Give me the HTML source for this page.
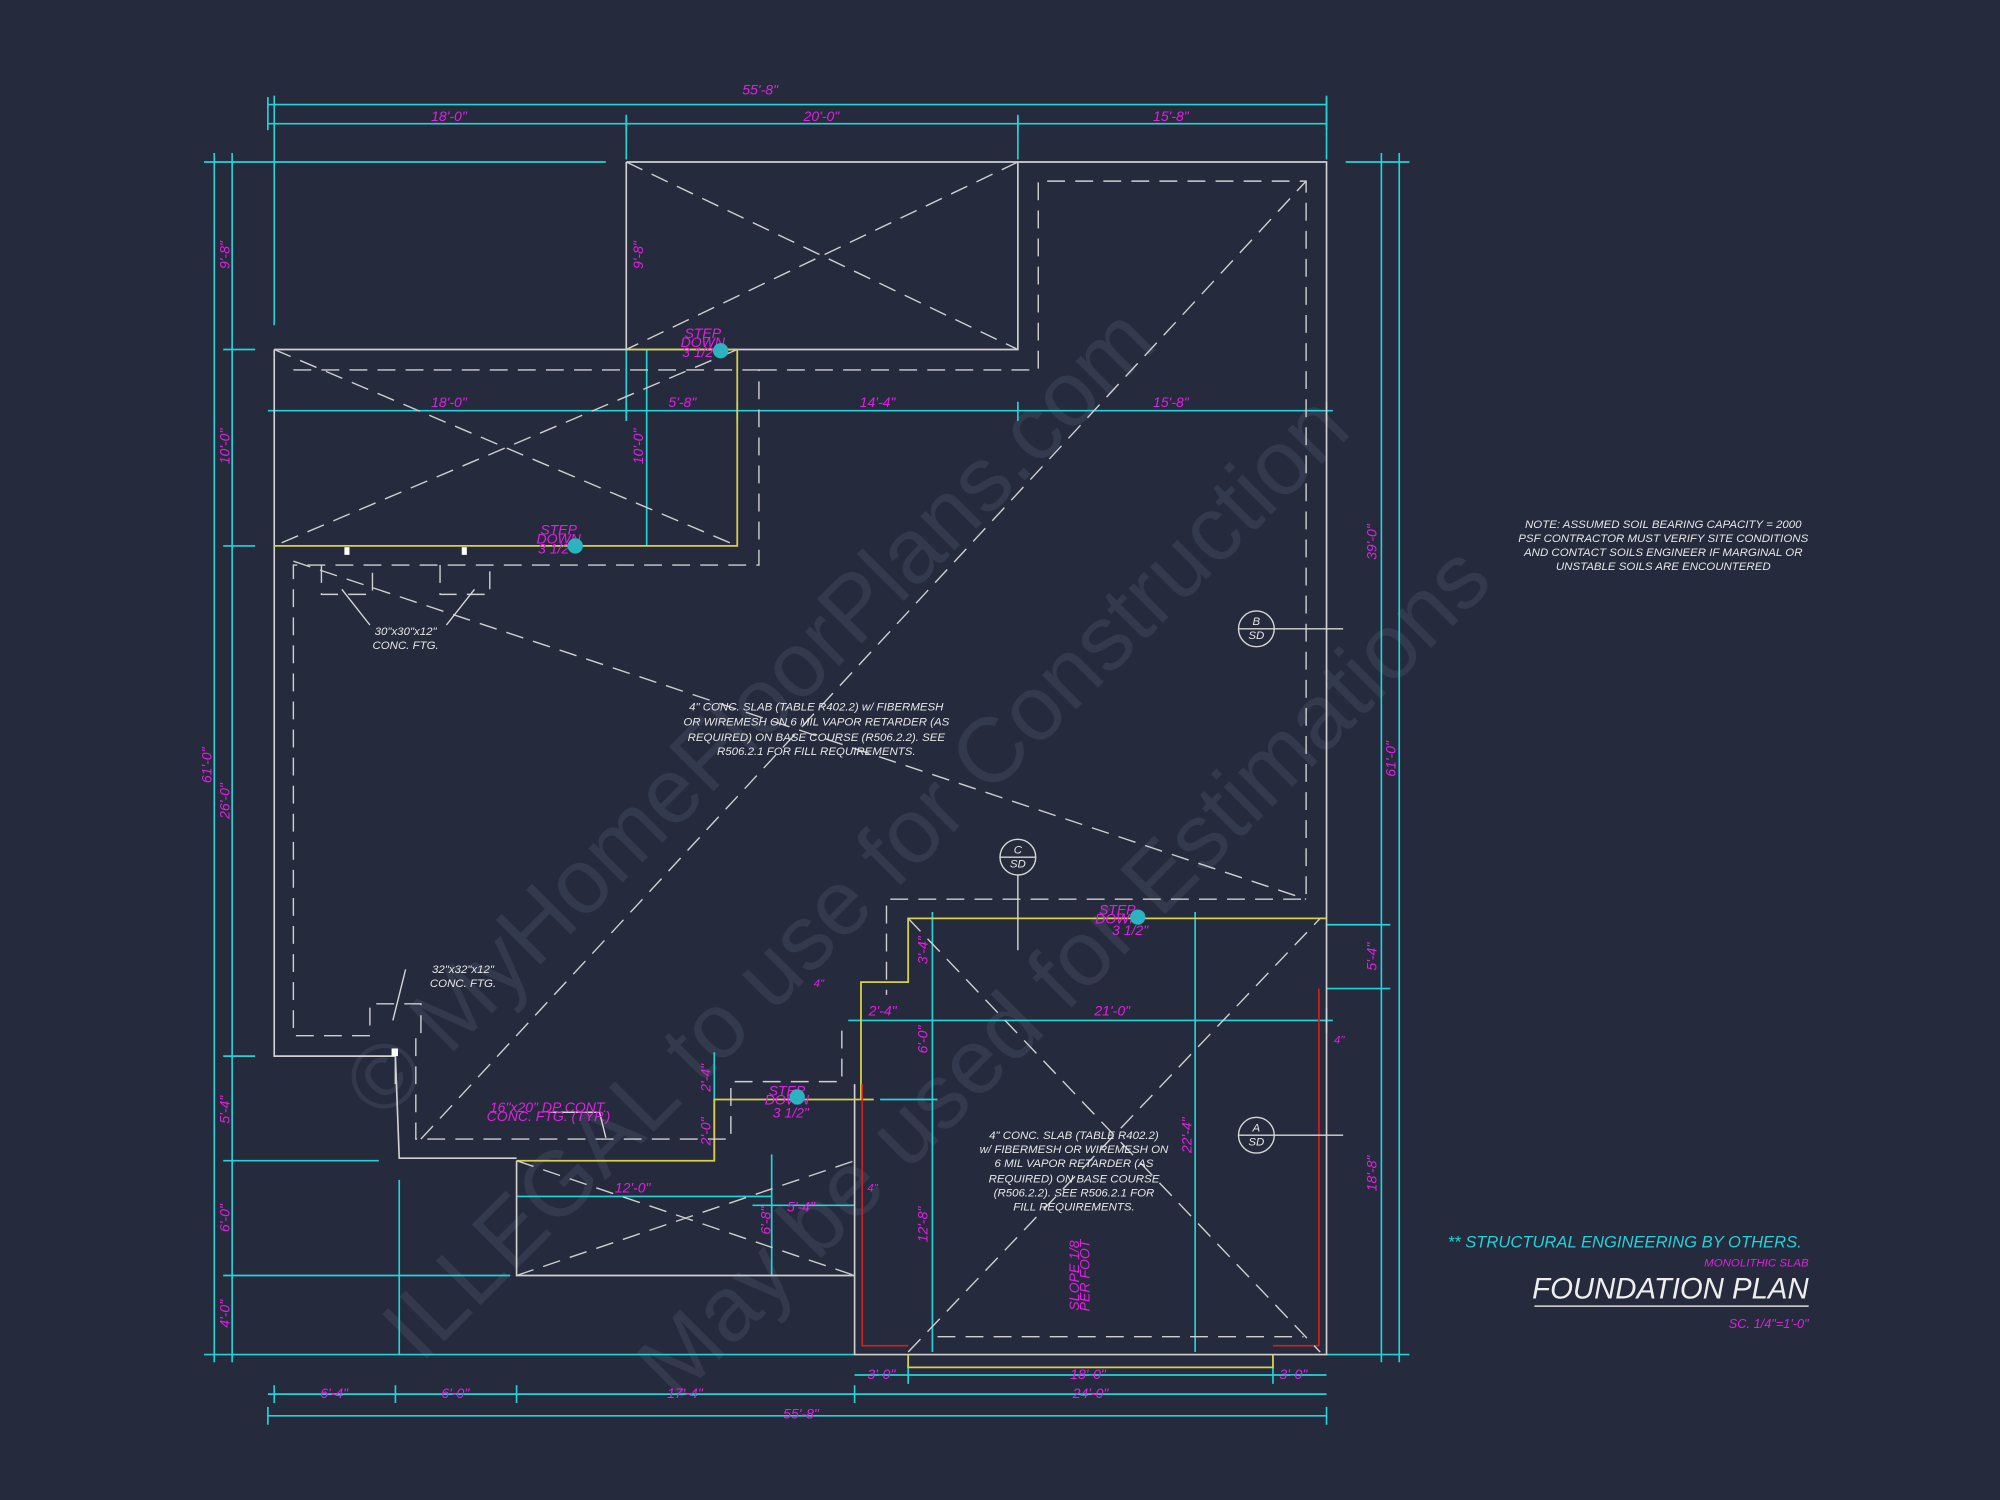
<!DOCTYPE html>
<html><head><meta charset="utf-8"><style>
html,body{margin:0;padding:0;background:#262a3d;}
svg{display:block}
text{font-family:"Liberation Sans",sans-serif;font-style:italic}
.m{fill:#e020e0;font-size:11px}
.w{fill:#e6e6e6;font-size:9px;font-style:normal}
.c{stroke:#22d3d8;stroke-width:1.3;fill:none}
.o{stroke:#d0d0d0;stroke-width:1.3;fill:none}
.d{stroke:#cfcfcf;stroke-width:1.1;fill:none;stroke-dasharray:14 8}
.y{stroke:#d8d04a;stroke-width:1.4;fill:none}
.r{stroke:#d02020;stroke-width:1.3;fill:none}
</style></head><body>
<svg width="2000" height="1500" viewBox="0 0 1568 1176" xmlns="http://www.w3.org/2000/svg">
<rect width="1568" height="1176" fill="#262a3d"/>
<g fill="#343a4d" font-family="Liberation Serif,serif" font-size="72">
<text transform="translate(300,880) rotate(-45)" style="font-style:normal">© MyHomeFloorPlans.com</text>
<text transform="translate(330,1070) rotate(-45)" style="font-style:normal">ILLEGAL to use for Construction</text>
<text transform="translate(530,1100) rotate(-45)" style="font-style:normal">May be used for Estimations</text>
</g>
<g class="c">
<path d="M210 82H1040M210 97H1040M215 75V255M491 90V125M798 90V125M1040 75V125"/>
<path d="M210 76V102M1040 76V102M491 92V104M798 92V104"/>
<path d="M168 120V1068M182 120V1068M160 127H475M175 274H200M175 428H200M175 828H200M175 910H297M175 1000H400M160 1062H670"/>
<path d="M1083 120V1068M1097 120V1068M1055 127H1105M1040 725H1090M1040 775H1090M1040 1062H1105"/>
<path d="M210 322H1045M491 315V330M578 315V330M798 315V330M1040 315V330"/>
<path d="M507 274V428M491 274V330"/>
<path d="M665 800H1045M731 715V1060M937 715V1060M690 862H735M1040 790V810"/>
<path d="M670 1078H1040M712 1070V1085M998 1070V1085M210 1093H1040M215 1086V1100M310 1086V1100M405 1086V1100M670 1086V1100M210 1110H1040M210 1103V1117M1040 1103V1117"/>
<path d="M560 825V910M405 938H605M605 905V1000M590 945H670M313 925V1062"/>
</g>
<g class="o">
<path d="M491 127H1040V720M491 127V274H798V127M215 274H491M215 274V828H310V850M310 828L313 908H405M405 910V1000H670V1062H1040V720M670 862V1062M670 862V850"/>
</g>
<g class="y">
<path d="M491 274H578V428H215M405 910H560V862H685M675 862V770H712V720H1040M712 1062V1072H998V1062"/>
</g>
<g class="r"><path d="M676 850V1055H712M1034 775V1055H998"/></g>
<g class="d">
<path d="M230 290H595V443H230V812H290V787H330V812H326V893H573V848H660V800"/>
<path d="M595 290H814V142H1024V705H695V780"/>
<path d="M735 1048H1022"/>
<path d="M252 443V466H292V443M345 443V466H384V443"/>
<path d="M491 127L798 274M798 127L491 274M215 274L578 428M578 274L215 428"/>
<path d="M230 440L1024 705M330 893L1024 142M712 1060L1035 720M712 720L1035 1060M405 910L670 1000M405 1000L670 910"/>
</g>
<rect x="270" y="429" width="4" height="6" fill="#fff"/><rect x="362" y="429" width="4" height="6" fill="#fff"/><rect x="307" y="822" width="5" height="6" fill="#fff"/>
<g fill="none" stroke="#d6d6d6" stroke-width="1.1">
<circle cx="985" cy="493" r="14"/><path d="M971 493H1053"/>
<circle cx="798" cy="672" r="14"/><path d="M784 672H812M798 686V745"/>
<circle cx="985" cy="890" r="14"/><path d="M971 890H1053"/>
<path d="M290 490L268 462M350 490L372 462M318 760L308 800M430 872L470 872L475 892"/>
</g>
<g class="w" text-anchor="middle" font-size="8">
<text x="985" y="490">B</text><text x="985" y="501">SD</text>
<text x="798" y="669">C</text><text x="798" y="680">SD</text>
<text x="985" y="887">A</text><text x="985" y="898">SD</text>
</g>
<g class="m" text-anchor="middle">
<text x="596" y="74">55'-8"</text>
<text x="352" y="95">18'-0"</text><text x="644" y="95">20'-0"</text><text x="918" y="95">15'-8"</text>
<text x="352" y="319">18'-0"</text><text x="535" y="319">5'-8"</text><text x="688" y="319">14'-4"</text><text x="918" y="319">15'-8"</text>
<text x="692" y="796">2'-4"</text><text x="872" y="796">21'-0"</text>
<text x="496" y="935">12'-0"</text><text x="628" y="950">5'-4"</text>
<text x="691" y="1081">3'-0"</text><text x="853" y="1081">18'-0"</text><text x="1014" y="1081">3'-0"</text>
<text x="262" y="1096">6'-4"</text><text x="357" y="1096">6'-0"</text><text x="537" y="1096">17'-4"</text><text x="855" y="1096">24'-0"</text>
<text x="628" y="1112">55'-8"</text>
<text x="642" y="774" font-size="9">4"</text><text x="1050" y="818" font-size="9">4"</text><text x="684" y="934" font-size="9">4"</text>
</g>
<g class="m" text-anchor="middle">
<text transform="translate(180,200) rotate(-90)">9'-8"</text>
<text transform="translate(180,350) rotate(-90)">10'-0"</text>
<text transform="translate(180,628) rotate(-90)">26'-0"</text>
<text transform="translate(166,600) rotate(-90)">61'-0"</text>
<text transform="translate(180,870) rotate(-90)">5'-4"</text>
<text transform="translate(180,955) rotate(-90)">6'-0"</text>
<text transform="translate(180,1030) rotate(-90)">4'-0"</text>
<text transform="translate(504,200) rotate(-90)">9'-8"</text>
<text transform="translate(504,350) rotate(-90)">10'-0"</text>
<text transform="translate(1079,425) rotate(-90)">39'-0"</text>
<text transform="translate(1094,595) rotate(-90)">61'-0"</text>
<text transform="translate(1079,750) rotate(-90)">5'-4"</text>
<text transform="translate(1079,920) rotate(-90)">18'-8"</text>
<text transform="translate(727,745) rotate(-90)">3'-4"</text>
<text transform="translate(727,815) rotate(-90)">6'-0"</text>
<text transform="translate(727,960) rotate(-90)">12'-8"</text>
<text transform="translate(934,890) rotate(-90)">22'-4"</text>
<text transform="translate(557,845) rotate(-90)">2'-4"</text>
<text transform="translate(557,887) rotate(-90)">2'-0"</text>
<text transform="translate(604,957) rotate(-90)">6'-8"</text>
</g>
<g class="m" font-size="6" text-anchor="middle">
<text x="551" y="265">STEP</text><text x="551" y="272">DOWN</text><text x="549" y="280">3 1/2"</text>
<text x="438" y="419">STEP</text><text x="438" y="426">DOWN</text><text x="436" y="434">3 1/2"</text>
<text x="876" y="717">STEP</text><text x="876" y="724">DOWN</text><text x="886" y="733">3 1/2"</text>
<text x="617" y="859">STEP</text><text x="617" y="866">DOWN</text><text x="620" y="876">3 1/2"</text>
<text x="430" y="872">16"x20" DP CONT.</text><text x="430" y="879">CONC. FTG. (TYP.)</text>
<text transform="translate(846,1000) rotate(-90)">SLOPE 1/8</text>
<text transform="translate(854,1000) rotate(-90)">PER FOOT</text>
</g>
<g fill="#2bb3c0"><circle cx="565" cy="275" r="6"/><circle cx="451" cy="428" r="6"/><circle cx="892" cy="719" r="6"/><circle cx="625" cy="860" r="6"/></g>
<g class="w" text-anchor="middle">
<text x="318" y="498">30"x30"x12"</text><text x="318" y="509">CONC. FTG.</text>
<text x="363" y="763">32"x32"x12"</text><text x="363" y="774">CONC. FTG.</text>
<text x="640" y="557">4" CONC. SLAB (TABLE R402.2) w/ FIBERMESH</text>
<text x="640" y="569">OR WIREMESH ON 6 MIL VAPOR RETARDER (AS</text>
<text x="640" y="581">REQUIRED) ON BASE COURSE (R506.2.2). SEE</text>
<text x="640" y="592">R506.2.1 FOR FILL REQUIREMENTS.</text>
<text x="842" y="893">4" CONC. SLAB (TABLE R402.2)</text>
<text x="842" y="904">w/ FIBERMESH OR WIREMESH ON</text>
<text x="842" y="915">6 MIL VAPOR RETARDER (AS</text>
<text x="842" y="927">REQUIRED) ON BASE COURSE</text>
<text x="842" y="938">(R506.2.2). SEE R506.2.1 FOR</text>
<text x="842" y="949">FILL REQUIREMENTS.</text>
<text x="1304" y="414">NOTE: ASSUMED SOIL BEARING CAPACITY = 2000</text>
<text x="1304" y="425">PSF CONTRACTOR MUST VERIFY SITE CONDITIONS</text>
<text x="1304" y="436">AND CONTACT SOILS ENGINEER IF MARGINAL OR</text>
<text x="1304" y="447">UNSTABLE SOILS ARE ENCOUNTERED</text>
</g>
<text x="1135" y="978" fill="#22d3d8" font-size="13">** STRUCTURAL ENGINEERING BY OTHERS.</text>
<text x="1418" y="993" fill="#e020e0" font-size="9" text-anchor="end">MONOLITHIC SLAB</text>
<text x="1418" y="1018" fill="#eeeeee" font-size="23" text-anchor="end">FOUNDATION PLAN</text>
<path d="M1203 1024H1418" stroke="#ddd" stroke-width="1.2"/>
<text x="1418" y="1041" fill="#e020e0" font-size="10" text-anchor="end">SC. 1/4"=1'-0"</text>
</svg>
</body></html>
